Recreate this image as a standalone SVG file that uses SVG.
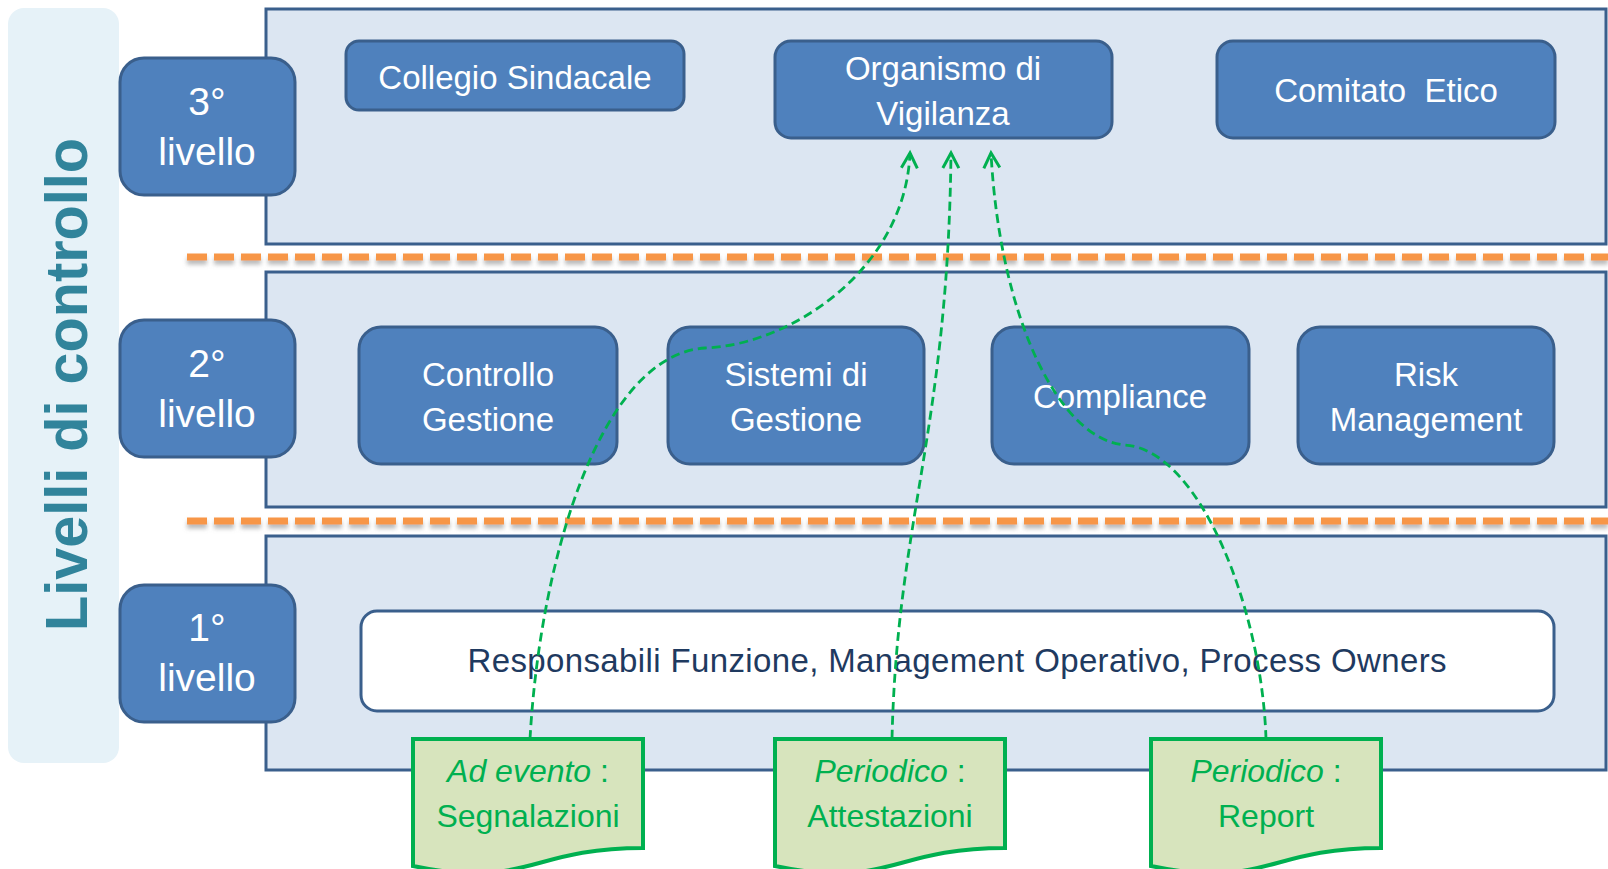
<svg xmlns="http://www.w3.org/2000/svg" width="1608" height="869" viewBox="0 0 1608 869">
  <style>
    .band { fill: #DCE6F2; stroke: #3A5F8C; stroke-width: 3; }
    .lvl { fill: #4F81BD; stroke: #3A5F8C; stroke-width: 3; }
    .node { fill: #4F81BD; stroke: #3A5F8C; stroke-width: 3; }
    .lvl-t { font-family: "Liberation Sans", Arial, sans-serif; font-size: 39px; fill: #FFFFFF; text-anchor: middle; }
    .node-t { font-family: "Liberation Sans", Arial, sans-serif; font-size: 33px; fill: #FFFFFF; text-anchor: middle; }
    .doc { fill: #D7E4BD; stroke: #00B050; stroke-width: 4; stroke-linejoin: miter; }
    .doc-t { font-family: "Liberation Sans", Arial, sans-serif; font-size: 32px; fill: #00B050; text-anchor: middle; }
    .sep { stroke: #F79646; stroke-width: 7; stroke-dasharray: 20 7; fill: none; }
    .flow { fill: none; stroke: #00B050; stroke-width: 2.8; stroke-dasharray: 9 5; }
  </style>
  <defs>
    <marker id="chevron" markerUnits="userSpaceOnUse" markerWidth="24" markerHeight="24" refX="16" refY="9" orient="auto" viewBox="0 0 24 18">
      <path d="M 1 1 L 16 9 L 1 17" fill="none" stroke="#00B050" stroke-width="3"/>
    </marker>
    <filter id="sepShadow" x="-5%" y="-100%" width="110%" height="400%">
      <feDropShadow dx="0" dy="4" stdDeviation="2" flood-color="#808080" flood-opacity="0.55"/>
    </filter>
  </defs>

  <!-- side panel with vertical title -->
  <g id="side-panel">
    <rect x="8" y="8" width="111" height="755" rx="16" fill="#E6F2F8"/>
    <text transform="translate(87,631) rotate(-90)" font-family="'Liberation Sans', Arial, sans-serif" font-weight="bold" font-size="60" fill="#31849B" textLength="493" lengthAdjust="spacingAndGlyphs">Livelli di controllo</text>
  </g>

  <!-- level bands -->
  <g id="band-3"><rect class="band" x="266" y="9" width="1340" height="235"/></g>
  <g id="band-2"><rect class="band" x="266" y="272" width="1340" height="235"/></g>
  <g id="band-1"><rect class="band" x="266" y="536" width="1340" height="234"/></g>

  <!-- separators between levels -->
  <g id="separators" filter="url(#sepShadow)">
    <line class="sep" x1="187" y1="257" x2="1608" y2="257"/>
    <line class="sep" x1="187" y1="521" x2="1608" y2="521"/>
  </g>

  <!-- level labels -->
  <g id="level-3">
    <rect class="lvl" x="120" y="58" width="175" height="137" rx="24"/>
    <text class="lvl-t" x="207" y="115">3°</text>
    <text class="lvl-t" x="207" y="165">livello</text>
  </g>
  <g id="level-2">
    <rect class="lvl" x="120" y="320" width="175" height="137" rx="24"/>
    <text class="lvl-t" x="207" y="377">2°</text>
    <text class="lvl-t" x="207" y="427">livello</text>
  </g>
  <g id="level-1">
    <rect class="lvl" x="120" y="585" width="175" height="137" rx="24"/>
    <text class="lvl-t" x="207" y="641">1°</text>
    <text class="lvl-t" x="207" y="691">livello</text>
  </g>

  <!-- third level bodies -->
  <g id="collegio-sindacale">
    <rect class="node" x="346" y="41" width="338" height="69" rx="13"/>
    <text class="node-t" x="515" y="89">Collegio Sindacale</text>
  </g>
  <g id="organismo-vigilanza">
    <rect class="node" x="775" y="41" width="337" height="97" rx="16"/>
    <text class="node-t" x="943" y="80">Organismo di</text>
    <text class="node-t" x="943" y="125">Vigilanza</text>
  </g>
  <g id="comitato-etico">
    <rect class="node" x="1217" y="41" width="338" height="97" rx="16"/>
    <text class="node-t" x="1386" y="102" xml:space="preserve">Comitato  Etico</text>
  </g>

  <!-- second level functions -->
  <g id="controllo-gestione">
    <rect class="node" x="359" y="327" width="258" height="137" rx="22"/>
    <text class="node-t" x="488" y="386">Controllo</text>
    <text class="node-t" x="488" y="431">Gestione</text>
  </g>
  <g id="sistemi-gestione">
    <rect class="node" x="668" y="327" width="256" height="137" rx="22"/>
    <text class="node-t" x="796" y="386">Sistemi di</text>
    <text class="node-t" x="796" y="431">Gestione</text>
  </g>
  <g id="compliance">
    <rect class="node" x="992" y="327" width="257" height="137" rx="22"/>
    <text class="node-t" x="1120" y="408">Compliance</text>
  </g>
  <g id="risk-management">
    <rect class="node" x="1298" y="327" width="256" height="137" rx="22"/>
    <text class="node-t" x="1426" y="386">Risk</text>
    <text class="node-t" x="1426" y="431">Management</text>
  </g>

  <!-- first level owners -->
  <g id="responsabili">
    <rect x="361" y="611" width="1193" height="100" rx="16" fill="#FFFFFF" stroke="#3A5F8C" stroke-width="3"/>
    <text x="957" y="672" font-family="'Liberation Sans', Arial, sans-serif" font-size="33" fill="#1F3A60" text-anchor="middle" textLength="979" lengthAdjust="spacing">Responsabili Funzione, Management Operativo, Process Owners</text>
  </g>

  <!-- information flows -->
  <g id="connectors">
    <path class="flow" d="M 530 739 C 540 560 600 355 705 348 C 790 345 905 270 910 153" marker-end="url(#chevron)"/>
    <path class="flow" d="M 892 739 C 897 520 948 430 951 153" marker-end="url(#chevron)"/>
    <path class="flow" d="M 1266 739 C 1262 610 1200 450 1125 445 C 1060 440 1000 320 991 153" marker-end="url(#chevron)"/>
  </g>

  <!-- reporting documents -->
  <g id="doc-segnalazioni">
    <path class="doc" d="M 413 739 H 643 V 848 C 528 848 528 890 413 866 Z"/>
    <text class="doc-t" x="528" y="782"><tspan font-style="italic">Ad evento</tspan> :</text>
    <text class="doc-t" x="528" y="827">Segnalazioni</text>
  </g>
  <g id="doc-attestazioni">
    <path class="doc" d="M 775 739 H 1005 V 848 C 890 848 890 890 775 866 Z"/>
    <text class="doc-t" x="890" y="782"><tspan font-style="italic">Periodico</tspan> :</text>
    <text class="doc-t" x="890" y="827">Attestazioni</text>
  </g>
  <g id="doc-report">
    <path class="doc" d="M 1151 739 H 1381 V 848 C 1266 848 1266 890 1151 866 Z"/>
    <text class="doc-t" x="1266" y="782"><tspan font-style="italic">Periodico</tspan> :</text>
    <text class="doc-t" x="1266" y="827">Report</text>
  </g>
</svg>
